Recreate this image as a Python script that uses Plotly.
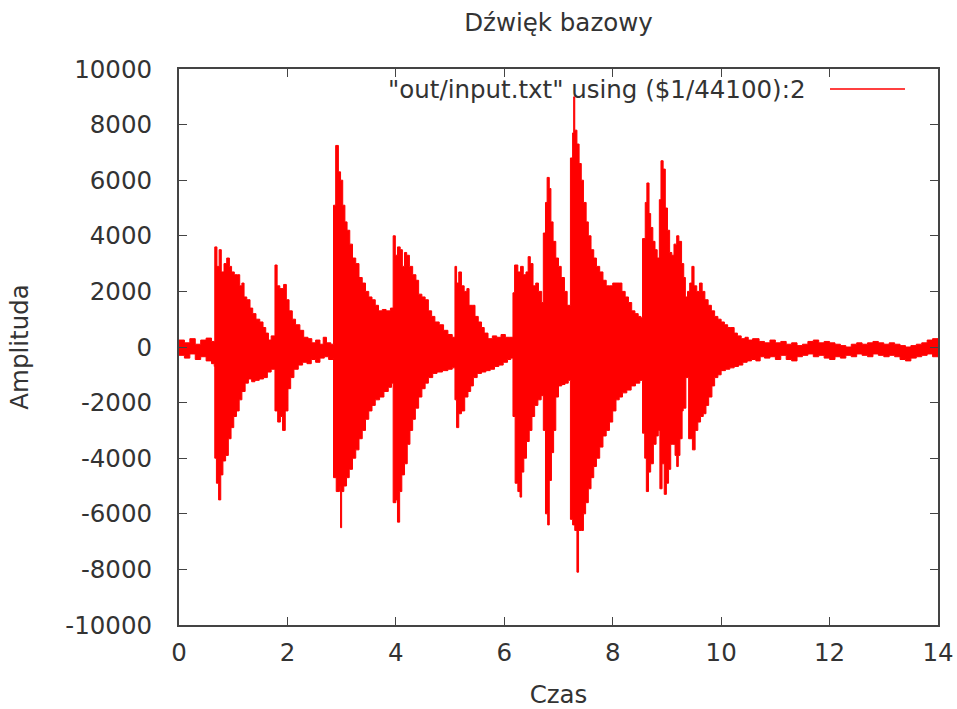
import plotly.graph_objects as go

# Upper envelope of the waveform (time in s, amplitude)
t_up = [0.00, 0.10, 0.20, 0.30, 0.40, 0.50, 0.60, 0.66, 0.70, 0.74, 0.78, 0.83, 0.88, 0.93, 0.97,
        1.02, 1.08, 1.12, 1.16, 1.20, 1.25, 1.31, 1.36, 1.42, 1.49, 1.55, 1.60, 1.65, 1.70,
        1.77, 1.81, 1.86, 1.93, 1.98, 2.03, 2.09, 2.15, 2.23, 2.30, 2.38, 2.45, 2.52, 2.60, 2.66, 2.72, 2.80,
        2.85, 2.89, 2.94, 2.98, 3.02, 3.06, 3.10, 3.15, 3.20, 3.26, 3.32, 3.38, 3.44, 3.50, 3.56, 3.62, 3.68,
        3.75, 3.82, 3.90, 3.95, 3.99, 4.03, 4.08, 4.12, 4.16, 4.20, 4.25, 4.31, 4.37, 4.42, 4.48, 4.54, 4.60,
        4.66, 4.72, 4.80, 4.88, 4.96, 5.04, 5.09, 5.12, 5.16, 5.21, 5.26, 5.31, 5.35, 5.41, 5.46, 5.52, 5.58,
        5.63, 5.70, 5.78, 5.86, 5.94, 6.02, 6.10, 6.16, 6.19, 6.25, 6.30, 6.35, 6.40, 6.44, 6.48, 6.53, 6.58,
        6.63, 6.69, 6.72, 6.76, 6.79, 6.83, 6.86, 6.90, 6.95, 7.00, 7.05, 7.11, 7.16, 7.22, 7.26, 7.28, 7.30,
        7.34, 7.38, 7.42, 7.46, 7.51, 7.55, 7.60, 7.65, 7.70, 7.76, 7.82, 7.88, 7.94, 8.00, 8.06, 8.12, 8.17,
        8.23, 8.29, 8.35, 8.41, 8.47, 8.52, 8.55, 8.60, 8.63, 8.67, 8.70, 8.74, 8.78, 8.82, 8.86, 8.89, 8.93,
        8.97, 9.01, 9.05, 9.09, 9.13, 9.18, 9.22, 9.27, 9.31, 9.34, 9.38, 9.42, 9.46, 9.50, 9.55, 9.60, 9.65,
        9.70, 9.76, 9.82, 9.88, 9.94, 10.00, 10.06, 10.12, 10.18, 10.24, 10.30, 10.37, 10.44, 10.50, 10.58,
        10.70, 10.80, 10.90, 11.00, 11.10, 11.20, 11.30, 11.40, 11.50, 11.60, 11.70, 11.80, 11.90, 12.00,
        12.10, 12.20, 12.30, 12.40, 12.50, 12.60, 12.70, 12.80, 12.90, 13.00, 13.10, 13.20, 13.30, 13.40,
        13.50, 13.60, 13.70, 13.80, 13.90, 14.00]
a_up = [250, 150, 300, 100, 250, 320, 200, 3600, 2900, 3500, 2700, 3000, 3200, 2900, 2700,
        2600, 2600, 2200, 2300, 1800, 1700, 1400, 1200, 1000, 900, 700, 500, 250, 400,
        2950, 2200, 2100, 2250, 1700, 1300, 1000, 800, 600, 350, 300, 150, 250, 100, 350, 150, 100,
        5100, 7250, 6300, 6000, 5100, 4500, 4200, 3700, 3200, 3000, 2500, 2300, 2000, 1800, 1700, 1500, 1300,
        1350, 1300, 1400, 4000, 3300, 3600, 3500, 2900, 3400, 3300, 2900, 2600, 2400, 1900, 1800, 1700, 1300,
        1100, 900, 800, 600, 450, 350, 2900, 2300, 2700, 2200, 2000, 2100, 1500, 1500, 1100, 900, 700,
        500, 300, 400, 350, 450, 350, 350, 1950, 2950, 2700, 2900, 2600, 2700, 3250, 3000, 2200, 2300,
        2000, 1600, 4100, 5200, 6100, 5700, 4500, 3800, 3200, 2900, 2500, 2000, 1500, 6800, 7700, 9000, 7800,
        7300, 6600, 6000, 5200, 4500, 4000, 3500, 3200, 2900, 2700, 2400, 2200, 2200, 2300, 2300, 2300, 2000,
        1800, 1600, 1300, 1200, 1100, 1050, 3900, 5200, 5900, 4800, 4300, 3800, 3500, 3200, 5300, 6700, 6400,
        5000, 4200, 3400, 3300, 3700, 4000, 3800, 3000, 2500, 1800, 2000, 2300, 2900, 2200, 2000, 2300, 2000,
        1700, 1500, 1300, 1100, 1000, 900, 800, 700, 700, 500, 400, 300, 350, 250, 300,
        200, 150, 250, 150, 200, 100, 150, 50, 100, 200, 250, 150, 200, 150,
        100, 50, 0, 100, 150, 100, 150, 200, 150, 100, 150, 100, 50, 0,
        50, 100, 150, 250, 300, 200]

# Lower envelope of the waveform (time in s, amplitude)
t_lo = [0.00, 0.10, 0.20, 0.30, 0.40, 0.50, 0.60, 0.65, 0.66, 0.69, 0.73, 0.77, 0.81, 0.86, 0.91, 0.96,
        1.01, 1.06, 1.11, 1.16, 1.22, 1.28, 1.34, 1.40, 1.48, 1.56, 1.63, 1.70, 1.77, 1.82, 1.87, 1.91, 1.96,
        2.01, 2.06, 2.12, 2.20, 2.28, 2.36, 2.44, 2.52, 2.60, 2.68, 2.76, 2.84, 2.85, 2.90, 2.96, 2.98, 3.00,
        3.04, 3.09, 3.14, 3.20, 3.26, 3.32, 3.38, 3.44, 3.50, 3.56, 3.62, 3.70, 3.78, 3.86, 3.92, 3.95, 4.00,
        4.03, 4.07, 4.11, 4.16, 4.21, 4.26, 4.31, 4.36, 4.42, 4.48, 4.54, 4.60, 4.68, 4.76, 4.86, 4.96, 5.04,
        5.09, 5.12, 5.16, 5.21, 5.27, 5.33, 5.38, 5.43, 5.50, 5.58, 5.66, 5.74, 5.82, 5.90, 5.98, 6.06, 6.12,
        6.16, 6.20, 6.25, 6.29, 6.32, 6.36, 6.41, 6.46, 6.51, 6.56, 6.62, 6.68, 6.72, 6.76, 6.80, 6.83, 6.87,
        6.91, 6.95, 7.00, 7.06, 7.12, 7.18, 7.22, 7.26, 7.30, 7.34, 7.37, 7.42, 7.46, 7.50, 7.55, 7.60, 7.65,
        7.70, 7.76, 7.82, 7.88, 7.94, 8.00, 8.06, 8.12, 8.18, 8.26, 8.34, 8.42, 8.50, 8.55, 8.59, 8.62, 8.66,
        8.70, 8.75, 8.80, 8.84, 8.87, 8.91, 8.95, 8.99, 9.03, 9.07, 9.11, 9.15, 9.18, 9.21, 9.24, 9.28, 9.30,
        9.35, 9.40, 9.47, 9.52, 9.57, 9.62, 9.67, 9.72, 9.77, 9.83, 9.88, 9.94, 10.00, 10.08, 10.16, 10.24,
        10.32, 10.40, 10.48, 10.56, 10.64, 10.72, 10.80, 10.90, 11.00, 11.10, 11.20, 11.30, 11.40, 11.50,
        11.60, 11.70, 11.80, 11.90, 12.00, 12.10, 12.20, 12.30, 12.40, 12.50, 12.60, 12.70, 12.80, 12.90,
        13.00, 13.10, 13.20, 13.30, 13.40, 13.50, 13.60, 13.70, 13.80, 13.90, 14.00]
a_lo = [-300, -400, -250, -450, -350, -500, -600, -700, -4000, -4900, -5500, -4600, -4100, -3900, -3300, -2900,
        -2500, -2300, -1900, -1600, -1300, -1150, -1250, -1200, -1150, -1100, -900, -800, -2300, -2700, -2500, -3000, -2300,
        -1500, -1100, -800, -650, -550, -600, -450, -550, -400, -350, -450, -400, -4700, -5200, -5000, -6500, -5200,
        -5000, -4700, -4400, -4000, -3700, -3300, -3000, -2600, -2300, -2100, -1900, -1800, -1600, -1450, -1300, -5600, -5500,
        -6300, -5200, -4600, -4200, -3500, -3000, -2600, -2200, -1800, -1500, -1300, -1100, -950, -900, -850, -800, -750,
        -1900, -2900, -2400, -2300, -1800, -1600, -1400, -1100, -950, -900, -850, -800, -700, -650, -550, -450, -400,
        -2500, -4900, -5200, -5400, -4500, -4000, -3400, -3000, -2500, -2100, -1900, -1750, -3000, -6000, -6400, -4800, -3800,
        -3000, -1800, -1400, -1350, -1300, -1200, -6200, -6400, -6600, -8100, -6600, -6600, -6000, -5600, -5100, -4700, -4300,
        -4000, -3600, -3200, -3000, -2700, -2300, -1900, -1800, -1650, -1550, -1400, -1300, -1200, -3100, -4000, -5200, -4500,
        -4200, -3500, -3200, -3000, -5100, -4200, -5300, -4900, -4400, -3500, -3500, -3900, -4300, -3900, -3300, -2300, -2200,
        -1100, -3300, -3700, -3000, -2700, -2500, -2400, -2100, -1800, -1400, -1100, -1000, -850, -800, -750, -700,
        -650, -550, -500, -450, -500, -350, -400, -350, -450, -300, -450, -500, -350, -300,
        -250, -350, -300, -400, -450, -350, -400, -300, -350, -250, -300, -350, -250, -300,
        -350, -300, -350, -450, -500, -400, -350, -300, -250, -350, -200]

x_ticks = [0, 2, 4, 6, 8, 10, 12, 14]
y_ticks = [-10000, -8000, -6000, -4000, -2000, 0, 2000, 4000, 6000, 8000, 10000]

series_name = '"out/input.txt" using ($1/44100):2'
title_text = "Dźwięk bazowy"
x_title = "Czas"
y_title = "Amplituda"

RED = "#ff0000"
TXT = "#333333"
AX = "#444444"
FONT = "DejaVu Sans"
FS = 24.5

fig = go.Figure()
fig.add_trace(go.Scatter(x=t_lo, y=a_lo, mode="lines", line=dict(color=RED, width=1, shape="hv"),
                         showlegend=False, hoverinfo="skip"))
fig.add_trace(go.Scatter(x=t_up, y=a_up, mode="lines", line=dict(color=RED, width=1, shape="hv"),
                         fill="tonexty", fillcolor=RED, name=series_name, showlegend=False))

axis_common = dict(showgrid=False, zeroline=False, showline=True, linecolor=AX, linewidth=2,
                   mirror="allticks", ticks="inside", ticklen=8, tickwidth=1, tickcolor=AX,
                   automargin=False,
                   tickfont=dict(family=FONT, size=FS, color=TXT))

fig.update_xaxes(range=[0, 14], tickvals=x_ticks, ticktext=[str(v) for v in x_ticks],
                 ticklabelstandoff=5,
                 title=dict(text=x_title, font=dict(family=FONT, size=FS, color=TXT), standoff=23),
                 **axis_common)
fig.update_yaxes(range=[-10000, 10000], tickvals=y_ticks, ticktext=[str(v) for v in y_ticks],
                 ticklabelstandoff=20,
                 title=dict(text=y_title, font=dict(family=FONT, size=FS, color=TXT), standoff=30),
                 **axis_common)

# gnuplot-style key: text, then a line sample to its right
fig.add_annotation(xref="paper", yref="paper", x=0.8287, y=0.964, xanchor="right", yanchor="middle",
                   text=series_name, showarrow=False, font=dict(family=FONT, size=FS, color=TXT))
fig.add_shape(type="line", xref="paper", yref="paper", x0=0.8577, x1=0.9565, y0=0.964, y1=0.964,
              line=dict(color=RED, width=1.5))

fig.update_layout(
    width=957, height=709,
    margin=dict(l=179, r=19, t=69, b=84),
    paper_bgcolor="white", plot_bgcolor="white",
    title=dict(text=title_text, x=0.5, xref="paper", y=1 - 22 / 709, yref="container",
               yanchor="middle", font=dict(family=FONT, size=FS, color=TXT)),
    showlegend=False,
)

fig.write_html("out.html")
